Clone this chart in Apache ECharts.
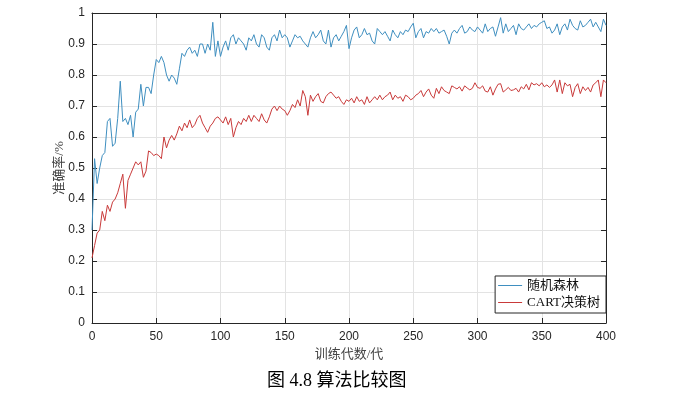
<!DOCTYPE html>
<html>
<head>
<meta charset="utf-8">
<script src="https://cdn.jsdelivr.net/npm/echarts@6/dist/echarts.min.js"></script>
<style>
html,body{margin:0;padding:0;background:#fff;}
#chart{width:691px;height:394px;}
</style>
</head>
<body>
<div id="chart"></div>
<script>
var epochStep = 2;
var xTicks = [0, 50, 100, 150, 200, 250, 300, 350, 400];
var yTicks = [0, 0.1, 0.2, 0.3, 0.4, 0.5, 0.6, 0.7, 0.8, 0.9, 1];
var seriesNames = ['随机森林', 'CART决策树'];

var randomForest = [
0.30,0.53,0.45,0.50,0.54,0.55,0.65,0.66,0.57,0.58,
0.66,0.78,0.65,0.66,0.64,0.67,0.60,0.68,0.69,0.77,
0.70,0.76,0.76,0.74,0.80,0.85,0.84,0.86,0.84,0.80,
0.78,0.80,0.79,0.77,0.82,0.87,0.86,0.88,0.89,0.87,
0.88,0.86,0.90,0.90,0.87,0.90,0.88,0.97,0.86,0.91,
0.86,0.89,0.91,0.88,0.92,0.93,0.90,0.92,0.91,0.90,
0.88,0.92,0.91,0.93,0.90,0.89,0.93,0.92,0.89,0.88,
0.92,0.93,0.91,0.945,0.92,0.93,0.92,0.89,0.91,0.93,
0.92,0.925,0.91,0.90,0.89,0.92,0.94,0.92,0.93,0.945,
0.91,0.90,0.945,0.89,0.92,0.93,0.91,0.925,0.94,0.96,
0.885,0.92,0.945,0.955,0.92,0.93,0.95,0.93,0.935,0.91,
0.90,0.95,0.94,0.93,0.94,0.925,0.91,0.945,0.93,0.92,
0.94,0.93,0.945,0.94,0.955,0.967,0.92,0.94,0.95,0.92,
0.94,0.935,0.95,0.94,0.95,0.935,0.94,0.945,0.925,0.90,
0.935,0.945,0.935,0.95,0.96,0.935,0.94,0.955,0.945,0.94,
0.955,0.945,0.935,0.965,0.94,0.95,0.955,0.925,0.955,0.985,
0.935,0.965,0.94,0.95,0.96,0.93,0.965,0.95,0.945,0.955,
0.965,0.95,0.96,0.955,0.965,0.97,0.975,0.95,0.955,0.935,
0.945,0.965,0.93,0.955,0.965,0.945,0.98,0.96,0.95,0.945,
0.975,0.955,0.96,0.97,0.98,0.955,0.97,0.955,0.94,0.98,
0.96
];

var cartTree = [
0.21,0.25,0.29,0.30,0.36,0.33,0.38,0.36,0.39,0.40,
0.42,0.45,0.48,0.37,0.46,0.48,0.50,0.52,0.51,0.52,
0.47,0.49,0.555,0.55,0.54,0.545,0.54,0.53,0.60,0.565,
0.59,0.605,0.59,0.61,0.635,0.62,0.645,0.63,0.655,0.63,
0.64,0.66,0.67,0.645,0.63,0.615,0.635,0.645,0.66,0.665,
0.655,0.645,0.665,0.64,0.66,0.60,0.63,0.65,0.64,0.66,
0.65,0.67,0.65,0.67,0.66,0.65,0.675,0.655,0.645,0.665,
0.69,0.70,0.685,0.70,0.69,0.685,0.67,0.685,0.705,0.695,
0.72,0.70,0.75,0.73,0.67,0.735,0.715,0.73,0.74,0.715,
0.71,0.73,0.74,0.745,0.735,0.725,0.73,0.715,0.705,0.72,
0.715,0.725,0.71,0.73,0.715,0.72,0.705,0.73,0.71,0.72,
0.73,0.72,0.735,0.72,0.73,0.735,0.745,0.72,0.735,0.725,
0.73,0.715,0.735,0.73,0.72,0.725,0.735,0.74,0.75,0.73,
0.745,0.755,0.735,0.725,0.757,0.74,0.762,0.75,0.745,0.74,
0.765,0.76,0.755,0.762,0.748,0.765,0.758,0.752,0.757,0.775,
0.76,0.757,0.765,0.748,0.745,0.762,0.735,0.755,0.77,0.772,
0.745,0.752,0.76,0.75,0.752,0.757,0.745,0.762,0.755,0.77,
0.752,0.775,0.768,0.772,0.765,0.775,0.762,0.768,0.76,0.768,
0.784,0.745,0.784,0.74,0.775,0.765,0.77,0.73,0.76,0.772,
0.74,0.762,0.75,0.76,0.745,0.768,0.775,0.784,0.73,0.784,
0.775
];

function pairs(vals){
  var out = [];
  for (var i = 0; i < vals.length; i++) out.push([i * epochStep, vals[i]]);
  return out;
}

var axisColor = '#262626';
var gridColor = '#e3e3e3';
var latin = "'Liberation Sans', Arial, sans-serif";
var serif = "'Liberation Serif', 'Noto Sans CJK SC', serif";
var axisLine = {show: true, onZero: false, lineStyle: {color: axisColor, width: 1}};
var axisTick = {show: true, inside: true, length: 5, lineStyle: {color: axisColor}};

var chart = echarts.init(document.getElementById('chart'), null, {renderer: 'canvas'});
chart.setOption({
  animation: false,
  backgroundColor: '#ffffff',
  title: {
    text: '图 4.8 算法比较图',
    left: 262, top: 367,
    textStyle: {fontSize: 18, fontWeight: 'normal', color: '#000', fontFamily: serif}
  },
  grid: {left: 92, right: 85, top: 13, bottom: 71, containLabel: false},
  legend: {
    data: seriesNames,
    orient: 'vertical',
    right: 85, bottom: 81,
    icon: 'rect',
    backgroundColor: '#ffffff',
    borderColor: axisColor, borderWidth: 1, borderRadius: 0,
    padding: [3, 6, 4, 3],
    itemGap: 4,
    itemWidth: 24, itemHeight: 1,
    textStyle: {fontSize: 13, color: '#111', fontFamily: serif}
  },
  xAxis: [{
    type: 'value', min: xTicks[0], max: xTicks[xTicks.length - 1], interval: 50,
    name: '训练代数/代', nameLocation: 'middle', nameGap: 25,
    nameTextStyle: {fontSize: 13, color: '#444', fontFamily: serif},
    axisLine: axisLine, axisTick: axisTick,
    axisLabel: {fontSize: 12, color: axisColor, margin: 8, fontFamily: latin},
    splitLine: {show: true, lineStyle: {color: gridColor, width: 1}}
  }, {
    type: 'value', position: 'top', min: xTicks[0], max: xTicks[xTicks.length - 1], interval: 50,
    axisLine: axisLine, axisTick: axisTick,
    axisLabel: {show: false}, splitLine: {show: false}
  }],
  yAxis: [{
    type: 'value', min: yTicks[0], max: yTicks[yTicks.length - 1], interval: 0.1,
    name: '准确率/%', nameLocation: 'middle', nameGap: 26, nameMoveOverlap: false,
    nameTextStyle: {fontSize: 13, color: '#444', fontFamily: serif},
    axisLine: axisLine, axisTick: axisTick,
    axisLabel: {fontSize: 12, color: axisColor, margin: 7, fontFamily: latin,
      formatter: function(v){ return String(+v.toFixed(1)); }},
    splitLine: {show: true, lineStyle: {color: gridColor, width: 1}}
  }, {
    type: 'value', position: 'right', min: yTicks[0], max: yTicks[yTicks.length - 1], interval: 0.1,
    axisLine: axisLine, axisTick: axisTick,
    axisLabel: {show: false}, splitLine: {show: false}
  }],
  series: [{
    name: seriesNames[0], type: 'line', data: pairs(randomForest),
    symbol: 'none', lineStyle: {color: '#3f8fc0', width: 1}, itemStyle: {color: '#3f8fc0'},
    z: 3
  }, {
    name: seriesNames[1], type: 'line', data: pairs(cartTree),
    symbol: 'none', lineStyle: {color: '#c93a3a', width: 1}, itemStyle: {color: '#c93a3a'},
    z: 2
  }]
});
</script>
</body>
</html>
